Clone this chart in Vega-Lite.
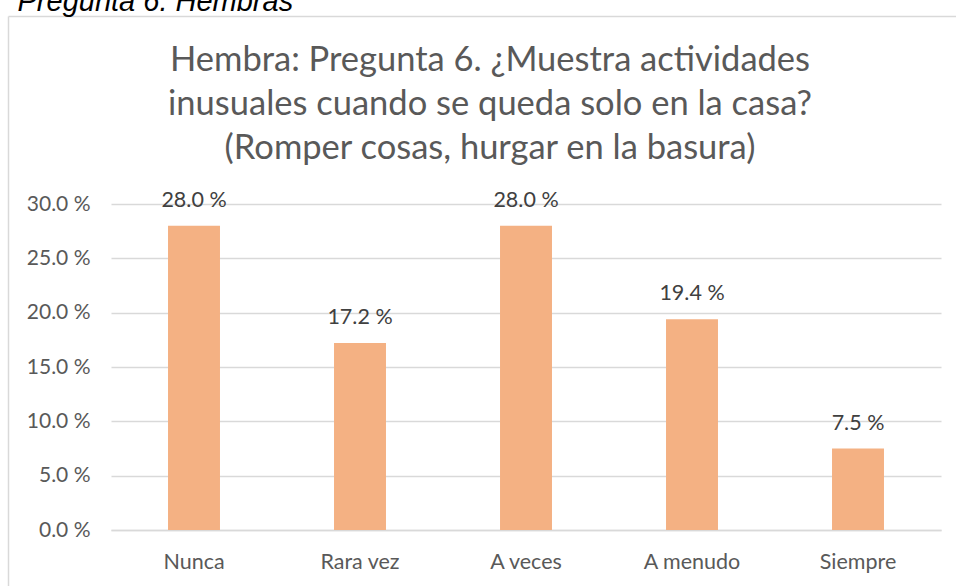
{
  "$schema": "https://vega.github.io/schema/vega-lite/v6.json",
  "autosize": {"type": "none"},
  "width": 830,
  "height": 326,
  "padding": {"left": 111, "top": 204, "right": 15, "bottom": 56},
  "background": "white",
  "config": {"view": {"stroke": null}, "font": "Lato"},
  "title": {
    "text": ["Hembra: Pregunta 6. ¿Muestra actividades", "inusuales cuando se queda solo en la casa?", "(Romper cosas, hurgar en la basura)"],
    "font": "Lato",
    "fontSize": 34.5,
    "fontWeight": "normal",
    "color": "#595959",
    "lineHeight": 44,
    "anchor": "middle",
    "baseline": "bottom",
    "dx": -36,
    "offset": -213
  },
  "data": {
    "values": [
      {"cat": "Nunca", "value": 28.0},
      {"cat": "Rara vez", "value": 17.2},
      {"cat": "A veces", "value": 28.0},
      {"cat": "A menudo", "value": 19.4},
      {"cat": "Siempre", "value": 7.5}
    ]
  },
  "transform": [{"calculate": "format(datum.value, '.1f') + ' %'", "as": "label"}],
  "layer": [
    {
      "layer": [
        {
          "mark": {"type": "bar", "color": "#F4B183", "width": {"band": 0.313}},
          "encoding": {
            "x": {
              "field": "cat", "type": "nominal", "sort": null,
              "scale": {"paddingInner": 0, "paddingOuter": 0},
              "axis": {
                "title": null, "labelAngle": 0, "labelFont": "Lato", "labelFontSize": 21.5,
                "labelColor": "#595959", "ticks": false, "tickSize": 0, "labelPadding": 38,
                "labelBaseline": "alphabetic", "domain": true, "domainColor": "#d9d9d9", "domainWidth": 1.5
              }
            },
            "y": {
              "field": "value", "type": "quantitative",
              "scale": {"domain": [0, 30], "nice": false},
              "axis": {
                "values": [0, 5, 10, 15, 20, 25, 30],
                "labelExpr": "format(datum.value, '.1f') + ' %'",
                "labelFont": "Lato", "labelFontSize": 21, "labelColor": "#595959",
                "ticks": false, "tickSize": 0, "labelPadding": 21, "domain": false,
                "grid": true, "gridColor": "#d9d9d9", "gridWidth": 1.5,
                "title": "Pregunta 6. Hembras",
                "titleFont": "Liberation Sans", "titleFontStyle": "italic", "titleFontWeight": "normal",
                "titleFontSize": 29, "titleColor": "#000000", "titleAngle": 0,
                "titleAlign": "left", "titleBaseline": "alphabetic",
                "titleX": -94, "titleY": -194
              }
            }
          }
        },
        {
          "mark": {"type": "text", "font": "Lato", "fontSize": 21.5, "color": "#404040", "baseline": "alphabetic", "dy": -19},
          "encoding": {
            "x": {"field": "cat", "type": "nominal", "sort": null},
            "y": {"field": "value", "type": "quantitative"},
            "text": {"field": "label"}
          }
        }
      ]
    },
    {
      "mark": {"type": "point", "opacity": 0},
      "encoding": {
        "x": {
          "field": "cat", "type": "nominal", "sort": null,
          "scale": {"type": "point", "range": [-103, 869]},
          "axis": {"orient": "top", "offset": 188, "labels": false, "ticks": false, "grid": false, "title": null, "domain": true, "domainColor": "#d9d9d9", "domainWidth": 1.5}
        },
        "y": {
          "field": "value", "type": "quantitative",
          "scale": {"domain": [0, 30], "nice": false, "range": [420, -188]},
          "axis": {"orient": "left", "offset": 103, "labels": false, "ticks": false, "grid": false, "title": null, "domain": true, "domainColor": "#d9d9d9", "domainWidth": 1.5}
        }
      }
    }
  ],
  "resolve": {"scale": {"x": "independent", "y": "independent"}, "axis": {"x": "independent", "y": "independent"}}
}
